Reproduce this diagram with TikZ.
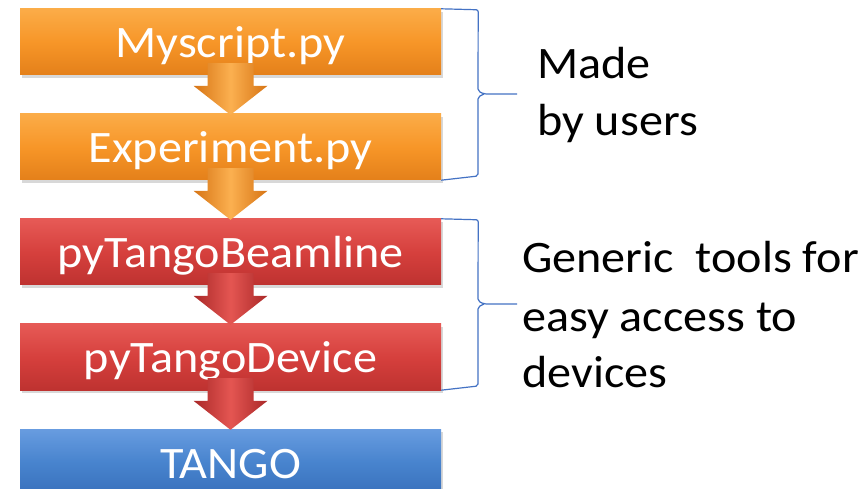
\documentclass[tikz,border=0pt]{standalone}
\usepackage{fontspec}
\setmainfont{Carlito}[FakeStretch=1.07]
\usetikzlibrary{calc,shadows}
\definecolor{orT}{RGB}{251,172,72}
\definecolor{orM}{RGB}{247,150,40}
\definecolor{orB}{RGB}{228,128,26}
\definecolor{rdT}{RGB}{230,90,86}
\definecolor{rdM}{RGB}{214,64,61}
\definecolor{rdB}{RGB}{190,50,48}
\definecolor{blT}{RGB}{104,156,224}
\definecolor{blM}{RGB}{72,132,206}
\definecolor{blB}{RGB}{56,112,188}
\definecolor{arO}{RGB}{214,116,20}
\definecolor{arOL}{RGB}{252,176,80}
\definecolor{arR}{RGB}{170,40,40}
\definecolor{arRL}{RGB}{228,86,82}
\definecolor{brk}{RGB}{68,114,196}
\newcommand{\flowarrowshape}[4]{%
  \shade[left color=#3,right color=#3,middle color=#4]
    ($(#1.south)+(-23,-12)$) -- ($(#1.south)+(23,-12)$) --
    ($(#2.north)+(23,-28)$) -- ($(#2.north)+(37,-28)$) --
    ($(#2.north)+(0,1)$) --
    ($(#2.north)+(-37,-28)$) -- ($(#2.north)+(-23,-28)$) -- cycle;}
\tikzset{
  layerbox/.style={rectangle, minimum width=421pt, minimum height=66pt,
    inner sep=0pt, text=white, font=\fontsize{45}{54}\selectfont,
    text height=32pt, text depth=0pt,
    drop shadow={shadow xshift=2pt, shadow yshift=-3pt, opacity=0.3}},
  orangebox/.style={layerbox, top color=orT, bottom color=orB, middle color=orM},
  redbox/.style={layerbox, top color=rdT, bottom color=rdB, middle color=rdM},
  bluebox/.style={layerbox, top color=blT, bottom color=blB, middle color=blM},
  bracket/.style={draw=brk, line width=1.2pt, rounded corners=2pt},
  sidetext/.style={anchor=base west, inner sep=0pt, font=\fontsize{45}{54}\selectfont}
}
\begin{document}
\begin{tikzpicture}[x=1pt,y=-1pt]
\useasboundingbox (0,0) rectangle (863,489);
\clip (0,0) rectangle (863,489);
\fill[white] (0,0) rectangle (863,489);

\node[orangebox] (my) at (230.5,42) {Myscript.py};
\node[orangebox] (ex) at (230.5,147) {Experiment.py};
\node[redbox] (bl) at (230.5,252) {pyTangoBeamline};
\node[redbox] (dv) at (230.5,357) {pyTangoDevice};
\node[bluebox] (tg) at (230.5,462) {TANGO};

\flowarrowshape{my}{ex}{arO}{arOL}
\flowarrowshape{ex}{bl}{arO}{arOL}
\flowarrowshape{bl}{dv}{arR}{arRL}
\flowarrowshape{dv}{tg}{arR}{arRL}

% brackets
\coordinate (tip1) at (517,94);
\coordinate (tip2) at (517,304);
\draw[bracket] (my.north east) -- ++(37,1) -- (478,91) -- (484,94) -- (tip1);
\draw[bracket] (484,94) -- (478,97) -- (478,176) -- (ex.south east);
\draw[bracket] (bl.north east) -- ++(37,1) -- (478,301) -- (484,304) -- (tip2);
\draw[bracket] (484,304) -- (478,307) -- (478,386) -- (dv.south east);

\node[sidetext] (made) at (537,79) {Made};
\node[sidetext] (users) at (537,136) {by users};
\node[sidetext] (gen) at (522,273) {Generic\ \ tools for};
\node[sidetext] (easy) at (522,331) {easy access to};
\node[sidetext] (devs) at (522,388) {devices};
\end{tikzpicture}
\end{document}
